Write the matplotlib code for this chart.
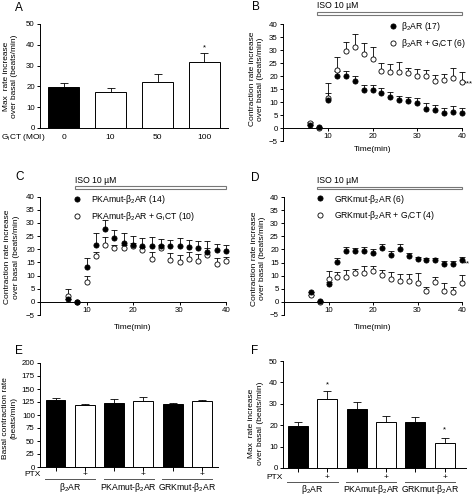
import matplotlib
matplotlib.use("Agg")
import matplotlib.pyplot as plt
import matplotlib.transforms as mtransforms
from matplotlib.patches import Rectangle
import numpy as np

plt.rcParams['font.family'] = ['Liberation Sans', 'DejaVu Sans']
plt.rcParams['mathtext.fontset'] = 'custom'
plt.rcParams['mathtext.rm'] = 'Liberation Sans'
plt.rcParams['mathtext.it'] = 'Liberation Sans:italic'
plt.rcParams['mathtext.bf'] = 'Liberation Sans:bold'

# ---------------- data ----------------
# panel A : GiCT dose
moi_labels = ['0', '10', '50', '100']
a_mean = [19.7, 17.4, 22.1, 31.9]
a_err = [2.0, 1.7, 3.9, 4.2]

# time course (min)
time_min = [6, 8, 10, 12, 14, 16, 18, 20, 22, 24, 26, 28, 30, 32, 34, 36, 38, 40]

# panel B : b2AR vs b2AR + GiCT
b_wt = [1.0, 0.2, 10.8, 20.0, 20.0, 18.0, 14.8, 14.5, 13.5, 12.1, 10.8, 10.2, 9.5, 7.5, 6.8, 5.8, 6.0, 5.8]
b_wt_err = [0, 0, 2.7, 2.0, 2.0, 2.0, 1.8, 2.1, 2.0, 1.8, 1.6, 1.9, 2.1, 2.3, 2.2, 2.0, 2.5, 2.0]
b_gct = [1.9, 0.0, 11.5, 22.5, 29.8, 31.3, 28.6, 26.4, 22.1, 21.4, 21.4, 21.3, 19.9, 19.9, 17.9, 18.6, 19.4, 17.6]
b_gct_err = [0.3, 0, 5.7, 5.0, 3.2, 4.7, 4.0, 4.7, 2.9, 3.4, 3.9, 1.9, 2.7, 2.6, 2.6, 2.0, 3.7, 4.0]

# panel C : PKAmut-b2AR
c_wt = [0.9, 0.0, 13.1, 21.6, 27.6, 24.3, 22.4, 21.6, 21.4, 21.3, 21.1, 21.1, 21.3, 21.0, 20.6, 18.9, 19.6, 19.2]
c_wt_err = [0, 0, 3.4, 4.7, 3.4, 3.2, 3.7, 3.3, 2.9, 3.4, 2.9, 2.5, 2.9, 2.4, 2.4, 4.4, 2.4, 2.6]
c_gct = [2.2, 0.0, 7.4, 17.6, 21.8, 20.3, 20.4, 21.3, 19.8, 16.2, 20.4, 15.9, 15.1, 16.4, 15.4, 17.9, 14.4, 15.5]
c_gct_err = [2.6, 0, 2.4, 1.2, 2.9, 1.2, 1.2, 1.2, 1.2, 2.7, 1.2, 2.5, 2.6, 2.5, 2.8, 2.5, 2.4, 1.6]

# panel D : GRKmut-b2AR
d_wt = [3.8, 0.1, 6.6, 15.3, 19.5, 19.3, 19.6, 18.7, 20.6, 18.0, 20.3, 17.4, 16.2, 15.9, 15.9, 14.3, 14.3, 15.9]
d_wt_err = [0, 0, 1.0, 1.3, 1.5, 1.3, 1.2, 1.3, 1.4, 1.3, 1.9, 1.4, 1.1, 0.8, 1.0, 1.2, 1.3, 1.1]
d_gct = [2.4, 0.0, 8.6, 9.6, 9.6, 11.1, 10.9, 11.7, 10.2, 8.5, 7.9, 7.9, 7.2, 3.9, 7.6, 4.2, 3.8, 7.2]
d_gct_err = [0, 0, 3.0, 1.7, 2.7, 1.5, 2.7, 2.1, 1.9, 3.0, 2.8, 2.8, 3.7, 1.9, 1.7, 2.8, 1.9, 3.0]

# panels E / F : PTX effect
groups = ['β$_2$AR', 'PKAmut-β$_2$AR', 'GRKmut-β$_2$AR']
ptx_flags = ['', '+', '', '+', '', '+']
e_mean = [129.0, 118.5, 124.0, 127.0, 121.0, 127.5]
e_err = [4.5, 2.5, 7.5, 7.5, 3.0, 1.5]
f_mean = [19.7, 32.1, 27.4, 21.4, 21.7, 11.6]
f_err = [2.0, 3.9, 3.3, 2.9, 2.0, 2.4]

W, H = 476, 495
fig = plt.figure(figsize=(W / 100, H / 100), dpi=100)

FS = 5.7
LW = 0.7


def px_axes(l, t, r, b):
    return fig.add_axes([l / W, 1 - b / H, (r - l) / W, (b - t) / H])


def base_style(ax):
    for s in ['top', 'right']:
        ax.spines[s].set_visible(False)
    for s in ['left', 'bottom']:
        ax.spines[s].set_linewidth(LW)
    ax.tick_params(axis='both', direction='out', length=2.2, width=LW, labelsize=FS, pad=1.5)


def up_err(ax, x, y, e, capsize=4.0, color='black', z=2):
    x = np.asarray(x, float)
    y = np.asarray(y, float)
    e = np.asarray(e, float)
    ax.vlines(x, y, y + e, colors=color, lw=0.6, zorder=z, clip_on=False)
    ax.plot(x, y + e, ls='none', marker='_', ms=capsize, mew=0.6, color=color, zorder=z, clip_on=False)


def bar_panel(ax, pos, mean, err, colors, width):
    ax.bar(pos, mean, width=width, color=colors, edgecolor='black', linewidth=LW, zorder=3)
    up_err(ax, pos, mean, err, capsize=5.5, z=2)


def time_panel(ax, y1, e1, y2, e2, lab1, lab2, leg_xy, leg_pad, iso_y, iso_txt_y, xlab_y):
    base_style(ax)
    ax.spines['bottom'].set_position(('data', 0))
    up_err(ax, time_min, y2, e2, z=2)
    up_err(ax, time_min, y1, e1, z=2)
    h2, = ax.plot(time_min, y2, ls='none', marker='o', ms=3.7, mfc='white', mec='black', mew=0.6,
                  zorder=4, clip_on=False, label=lab2)
    h1, = ax.plot(time_min, y1, ls='none', marker='o', ms=3.7, mfc='black', mec='black', mew=0.6,
                  zorder=5, clip_on=False, label=lab1)
    ax.set_xlim(0, 40)
    ax.set_ylim(-5, 40)
    ax.set_xticks([10, 20, 30, 40])
    ax.set_yticks([-5, 0, 5, 10, 15, 20, 25, 30, 35, 40])
    ax.set_xlabel('Time(min)', fontsize=6.0)
    ax.xaxis.set_label_coords(0.5, xlab_y)
    ax.set_ylabel('Contraction rate increase\nover basal (beats/min)', fontsize=6.0, linespacing=1.3)
    trans = mtransforms.blended_transform_factory(ax.transData, ax.transAxes)
    ax.add_patch(Rectangle((7.5, iso_y[0]), 32.5, iso_y[1] - iso_y[0], transform=trans,
                           facecolor='white', edgecolor='#777777', lw=0.8, clip_on=False))
    ax.text(7.5, iso_txt_y, 'ISO 10 µM', transform=trans, fontsize=6.2, ha='left', va='center')
    ax.legend(handles=[h1, h2], loc='upper left', bbox_to_anchor=(leg_xy[0] / W, 1 - leg_xy[1] / H),
              bbox_transform=fig.transFigure, frameon=False, fontsize=6.2, borderpad=0,
              borderaxespad=0, handlelength=1.0, handletextpad=leg_pad, labelspacing=0.45)


# ---------------- A ----------------
axA = px_axes(40, 24, 228, 128)
base_style(axA)
bar_panel(axA, [0, 1, 2, 3], a_mean, a_err, ['black', 'white', 'white', 'white'], 0.66)
axA.set_xlim(-0.5, 3.5)
axA.set_ylim(0, 50)
axA.set_yticks([0, 10, 20, 30, 40, 50])
axA.set_xticks([0, 1, 2, 3])
axA.set_xticklabels(moi_labels)
axA.tick_params(axis='x', length=0, pad=4, labelsize=6.0)
axA.set_ylabel('Max  rate increase\nover basal (beats/min)', fontsize=6.0, linespacing=1.3)
axA.yaxis.set_label_coords(-0.115, 0.5)
axA.text(-0.09, -0.087, 'G$_\\mathrm{i}$CT (MOI)', transform=axA.transAxes, fontsize=6.0,
         ha='center', va='center')
axA.text(3, 38.5, '*', fontsize=FS, ha='center', va='center')

# ---------------- B ----------------
axB = px_axes(283, 24, 462, 141)
time_panel(axB, b_wt, b_wt_err, b_gct, b_gct_err,
           'β$_2$AR (17)', 'β$_2$AR + G$_\\mathrm{i}$CT (6)',
           (388.5, 20), 0.5, (1.077, 1.103), 1.162, -0.045)
axB.yaxis.set_label_coords(-0.105, 0.53)
axB.text(40.5, 17.0, '***', fontsize=FS, ha='left', va='center')

# ---------------- C ----------------
axC = px_axes(40, 196.7, 226, 315)
time_panel(axC, c_wt, c_wt_err, c_gct, c_gct_err,
           'PKAmut-β$_2$AR (14)', 'PKAmut-β$_2$AR + G$_\\mathrm{i}$CT (10)',
           (73, 193), 1.05, (1.065, 1.093), 1.141, -0.072)
axC.yaxis.set_label_coords(-0.108, 0.49)

# ---------------- D ----------------
axD = px_axes(284, 197.3, 462, 314.7)
time_panel(axD, d_wt, d_wt_err, d_gct, d_gct_err,
           'GRKmut-β$_2$AR (6)', 'GRKmut-β$_2$AR + G$_\\mathrm{i}$CT (4)',
           (316, 192.5), 1.05, (1.068, 1.09), 1.147, -0.083)
axD.yaxis.set_label_coords(-0.10, 0.48)
axD.text(40.5, 14.5, '**', fontsize=FS, ha='left', va='center')


# ---------------- E / F ----------------
def ptx_panel(ax, mean, err, ylim, yticks, ylabel, y_ptx, y_line, y_grp):
    base_style(ax)
    pos = np.arange(len(mean))
    bar_panel(ax, pos, mean, err, ['black', 'white'] * 3, 0.68)
    ax.set_ylim(*ylim)
    ax.set_yticks(yticks)
    ax.set_xticks(pos)
    ax.set_xticklabels([])
    ax.tick_params(axis='x', length=3.0)
    ax.set_ylabel(ylabel, fontsize=6.0, linespacing=1.3)
    trans = mtransforms.blended_transform_factory(ax.transData, ax.transAxes)
    ax.text(-0.52, y_ptx, 'PTX', transform=trans, fontsize=6.0, ha='right', va='center')
    for p, flag in zip(pos, ptx_flags):
        ax.text(p, y_ptx, flag, transform=trans, fontsize=6.0, ha='center', va='center')
    for g, name in enumerate(groups):
        x0, x1 = 2 * g - 0.36, 2 * g + 1 + 0.36
        ax.plot([x0, x1], [y_line, y_line], color='#555555', lw=0.7, transform=trans, clip_on=False)
        ax.text((x0 + x1) / 2, y_grp, name, transform=trans, fontsize=6.2, ha='center', va='center')


axE = px_axes(40, 363, 218, 467)
ptx_panel(axE, e_mean, e_err, (0, 200), [0, 25, 50, 75, 100, 125, 150, 175, 200],
          'Basal contraction rate\n(beats/min)', -0.07, -0.12, -0.20)
axE.set_xlim(-0.53, 5.55)
axE.yaxis.set_label_coords(-0.124, 0.47)

axF = px_axes(283, 361, 466, 468)
ptx_panel(axF, f_mean, f_err, (0, 50), [0, 10, 20, 30, 40, 50],
          'Max  rate increase\nover basal (beats/min)', -0.085, -0.13, -0.197)
axF.set_xlim(-0.51, 5.73)
axF.yaxis.set_label_coords(-0.104, 0.42)
axF.text(1, 39.0, '*', fontsize=FS, ha='center', va='center')
axF.text(5, 18.0, '*', fontsize=FS, ha='center', va='center')

# panel letters
for letter, x, y in [('A', 15, 8), ('B', 252, 7), ('C', 15, 177),
                     ('D', 251, 178), ('E', 15, 351), ('F', 251, 351)]:
    fig.text(x / W, 1 - y / H, letter, fontsize=8.5, ha='left', va='center')

fig.savefig('out.png', dpi=100)
